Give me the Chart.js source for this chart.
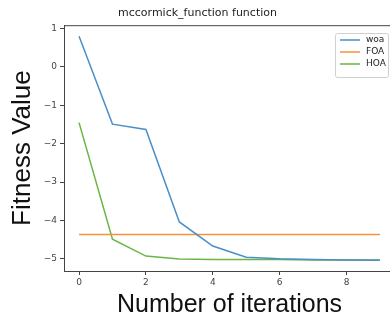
<!DOCTYPE html>
<html>
<head>
<meta charset="utf-8">
<script src="https://cdn.jsdelivr.net/npm/chart.js@4.4.1/dist/chart.umd.min.js"></script>
<style>
  html, body { margin: 0; padding: 0; background: #fff; overflow: hidden; }
  #wrap { width: 398px; height: 320px; }
</style>
</head>
<body>
<div id="wrap"><canvas id="myChart" width="398" height="320"></canvas></div>
<script>
const iterations = [0, 1, 2, 3, 4, 5, 6, 7, 8, 9];
const woa = [0.8, -1.49, -1.63, -4.04, -4.67, -4.96, -5.0, -5.02, -5.03, -5.04];
const foa = [-4.37, -4.37, -4.37, -4.37, -4.37, -4.37, -4.37, -4.37, -4.37, -4.37];
const hoa = [-1.45, -4.49, -4.93, -5.01, -5.02, -5.02, -5.02, -5.03, -5.03, -5.03];
const xTicks = [0, 2, 4, 6, 8];
const yTicks = [1, 0, -1, -2, -3, -4, -5];

const fontFamily = '"DejaVu Sans", sans-serif';
const labelFamily = '"Liberation Sans", Arial, sans-serif';

function toPoints(values) {
    return values.map((v, i) => ({ x: iterations[i], y: v }));
}

// frame + legend box in the upper right corner
const frameAndLegend = {
    id: 'frameAndLegend',
    afterDraw(chart) {
        const { ctx, chartArea } = chart;
        ctx.save();
        ctx.strokeStyle = '#444';
        ctx.lineWidth = 1;
        ctx.beginPath();
        ctx.moveTo(chartArea.left, chartArea.top + 0.5);
        ctx.lineTo(chartArea.right, chartArea.top + 0.5);
        ctx.lineTo(chartArea.right, chartArea.bottom);
        ctx.stroke();

        const bx = 335, by = 33, bw = 53, bh = 44;
        ctx.fillStyle = 'rgba(255,255,255,0.9)';
        ctx.strokeStyle = '#d0d0d0';
        ctx.beginPath();
        ctx.roundRect(bx + 0.5, by + 0.5, bw, bh, 2);
        ctx.fill();
        ctx.stroke();

        ctx.font = '9px ' + fontFamily;
        ctx.textBaseline = 'middle';
        chart.data.datasets.forEach((ds, i) => {
            const y = by + 7 + i * 12;
            ctx.strokeStyle = ds.borderColor;
            ctx.lineWidth = 1.5;
            ctx.beginPath();
            ctx.moveTo(bx + 5, y);
            ctx.lineTo(bx + 25, y);
            ctx.stroke();
            ctx.fillStyle = '#222';
            ctx.fillText(ds.label, bx + 31, y);
        });
        ctx.restore();
    }
};

const ctx = document.getElementById('myChart').getContext('2d');

new Chart(ctx, {
    type: 'line',
    data: {
        datasets: [
            { label: 'woa', data: toPoints(woa), borderColor: '#4a8fc8' },
            { label: 'FOA', data: toPoints(foa), borderColor: '#f7923a' },
            { label: 'HOA', data: toPoints(hoa), borderColor: '#6cb545' }
        ]
    },
    options: {
        responsive: false,
        animation: false,
        elements: {
            point: { radius: 0 },
            line: { borderWidth: 1.5, tension: 0, fill: false }
        },
        layout: { padding: { left: 0, right: 3, top: 0, bottom: 0 } },
        scales: {
            x: {
                type: 'linear',
                min: -0.45,
                max: 9.45,
                afterBuildTicks: (scale) => { scale.ticks = xTicks.map(v => ({ value: v })); },
                afterFit: (scale) => { scale.height = 49; },
                grid: { drawOnChartArea: false, drawTicks: true, tickLength: 4, color: '#444' },
                border: { display: true, color: '#444', width: 1 },
                ticks: { font: { size: 9, family: fontFamily }, color: '#444', padding: 2, maxRotation: 0 },
                title: {
                    display: true,
                    text: 'Number of iterations',
                    font: { size: 25, family: labelFamily },
                    color: '#111',
                    padding: { top: 0, bottom: 0 }
                }
            },
            y: {
                min: -5.32,
                max: 1.09,
                afterBuildTicks: (scale) => { scale.ticks = yTicks.map(v => ({ value: v })); },
                afterFit: (scale) => { scale.width = 64; },
                grid: { drawOnChartArea: false, drawTicks: true, tickLength: 4, color: '#444' },
                border: { display: true, color: '#444', width: 1 },
                ticks: {
                    font: { size: 9, family: fontFamily },
                    color: '#444',
                    padding: 3,
                    callback: (v) => (v < 0 ? '\u2212' + Math.abs(v) : String(v))
                },
                title: {
                    display: true,
                    text: 'Fitness Value',
                    font: { size: 26, family: labelFamily },
                    color: '#111',
                    padding: { top: 7, bottom: 0 }
                }
            }
        },
        plugins: {
            legend: { display: false },
            tooltip: { enabled: false },
            title: {
                display: true,
                text: 'mccormick_function function',
                font: { size: 11, family: fontFamily, weight: 'normal' },
                color: '#222',
                padding: { top: 7, bottom: 5 }
            }
        }
    },
    plugins: [frameAndLegend]
});
</script>
</body>
</html>
